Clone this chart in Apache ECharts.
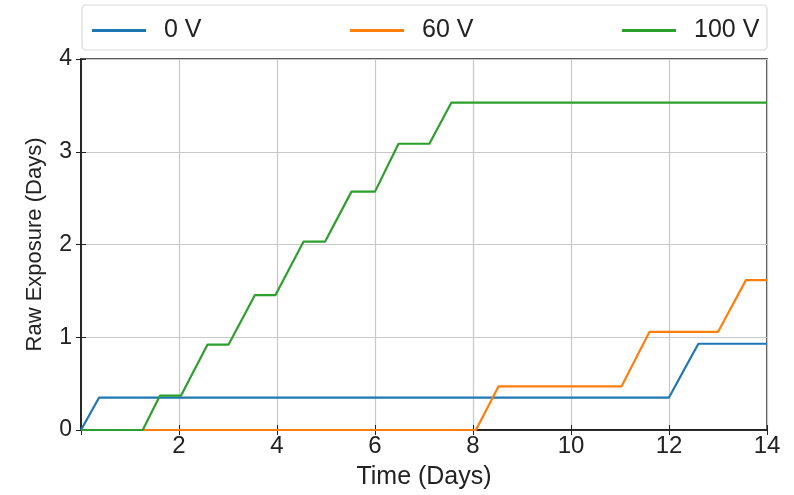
<!DOCTYPE html>
<html>
<head>
<meta charset="utf-8">
<script src="https://cdn.jsdelivr.net/npm/echarts@6/dist/echarts.min.js"></script>
<style>
  html, body { margin: 0; padding: 0; background: #fff; }
  #chart-container { width: 794px; height: 495px; }
</style>
</head>
<body>
<div id="chart-container"></div>
<script>
// Series data (x in days, y in days)
const seriesNames = ["0 V", "60 V", "100 V"];
const seriesColors = ["#1f77b4", "#ff7f0e", "#2ca02c"];

const x0V = [0, 0.37, 12.0, 12.35, 12.6, 14];
const y0V = [0, 0.35, 0.35, 0.69, 0.93, 0.93];

const x60V = [0, 8.06, 8.52, 11.03, 11.6, 13.0, 13.57, 14];
const y60V = [0, 0, 0.47, 0.47, 1.057, 1.057, 1.616, 1.616];

const x100V = [0, 1.26, 1.61, 2.04, 2.58, 3.01, 3.55, 3.97, 4.54, 4.98, 5.52, 6.0, 6.48, 7.11, 7.56, 14];
const y100V = [0, 0, 0.37, 0.37, 0.92, 0.92, 1.455, 1.455, 2.03, 2.03, 2.57, 2.57, 3.086, 3.086, 3.53, 3.53];

const xTicks = [2, 4, 6, 8, 10, 12, 14];
const yTicks = [0, 1, 2, 3, 4];

const chartElt = document.getElementById("chart-container");
const chart = echarts.init(chartElt, null, { renderer: "canvas" });

const font = "Liberation Sans";
const zip = (xs, ys) => xs.map((x, i) => [x, ys[i]]);
const allX = [x0V, x60V, x100V];
const allY = [y0V, y60V, y100V];

// legend entries are spread across the box like matplotlib's mode="expand"
const legendLefts = [87, 345, 617];

chart.setOption({
  backgroundColor: "#fff",
  animation: false,
  textStyle: { fontFamily: font },
  graphic: [
    {
      type: "rect",
      shape: { x: 82, y: 5, width: 685, height: 45, r: 4 },
      style: { fill: "#fff", stroke: "#d9d9d9", lineWidth: 1.2 },
      z: 0
    }
  ],
  legend: seriesNames.map((name, i) => ({
    data: [name],
    left: legendLefts[i],
    top: 13,
    itemWidth: 54,
    itemHeight: 3,
    icon: "rect",
    itemGap: 0,
    textStyle: { fontSize: 25, color: "#222", fontFamily: font, padding: [0, 0, 0, 13] },
    z: 5
  })),
  grid: { left: 81, right: 27, top: 59, bottom: 64, show: true, borderColor: "#222", borderWidth: 1.5 },
  xAxis: [
    {
      type: "value",
      min: 0, max: 14, interval: 2,
      name: "Time (Days)",
      nameLocation: "middle",
      nameGap: 35,
      nameTextStyle: { fontSize: 25, color: "#222" },
      axisLine: { show: true, lineStyle: { color: "#222", width: 1.5 } },
      axisTick: { show: true, inside: true, length: 5, lineStyle: { color: "#222" } },
      axisLabel: {
        fontSize: 24, color: "#222", margin: 4,
        formatter: v => (xTicks.includes(v) ? String(v) : "")
      },
      splitLine: { show: true, lineStyle: { color: "#c8c8c8", width: 1.2 } }
    },
    {
      type: "value", position: "top",
      min: 0, max: 14, interval: 2,
      axisLine: { show: true, lineStyle: { color: "#222", width: 1.5 } },
      axisTick: { show: true, inside: true, length: 5, lineStyle: { color: "#222" } },
      axisLabel: { show: false },
      splitLine: { show: false }
    }
  ],
  yAxis: [
    {
      type: "value",
      min: 0, max: 4, interval: 1,
      name: "Raw Exposure (Days)",
      nameLocation: "middle",
      nameGap: 35,
      nameTextStyle: { fontSize: 22, color: "#222" },
      axisLine: { show: true, lineStyle: { color: "#222", width: 1.5 } },
      axisTick: { show: true, inside: true, length: 5, lineStyle: { color: "#222" } },
      axisLabel: {
        fontSize: 23, color: "#222", margin: 9,
        formatter: v => (yTicks.includes(v) ? String(v) : "")
      },
      splitLine: { show: true, lineStyle: { color: "#c8c8c8", width: 1.2 } }
    },
    {
      type: "value", position: "right",
      min: 0, max: 4, interval: 1,
      axisLine: { show: true, lineStyle: { color: "#222", width: 1.5 } },
      axisTick: { show: true, inside: true, length: 5, lineStyle: { color: "#222" } },
      axisLabel: { show: false },
      splitLine: { show: false }
    }
  ],
  series: seriesNames.map((name, i) => ({
    name,
    type: "line",
    xAxisIndex: 0,
    yAxisIndex: 0,
    symbol: "none",
    color: seriesColors[i],
    lineStyle: { width: 2.2, color: seriesColors[i] },
    data: zip(allX[i], allY[i]),
    z: 3 + i
  }))
});
</script>
</body>
</html>
